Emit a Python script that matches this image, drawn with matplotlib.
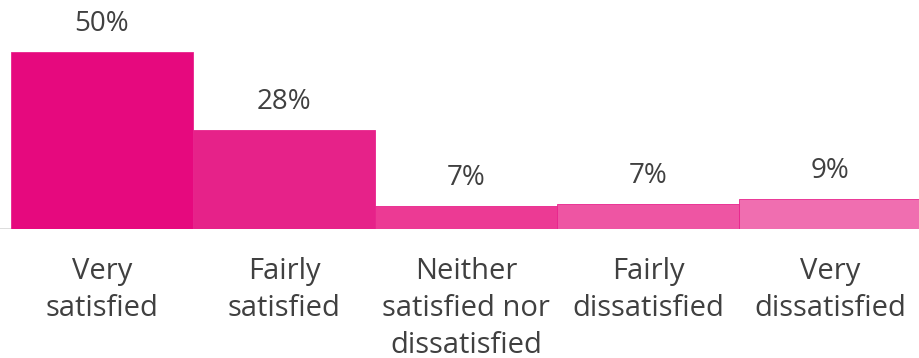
import matplotlib.pyplot as plt

# Satisfaction survey results
categories = ["Very\nsatisfied", "Fairly\nsatisfied", "Neither\nsatisfied nor\ndissatisfied",
              "Fairly\ndissatisfied", "Very\ndissatisfied"]
shares = [50, 28, 6.6, 7.1, 8.6]
bar_colors = ["#E6097E", "#E62289", "#EC3A94", "#EE55A3", "#F06EB0"]

plt.rcParams["font.family"] = ["Open Sans", "DejaVu Sans"]
text_color = "#404040"

fig = plt.figure(figsize=(9.2, 3.58), dpi=100)
ax = fig.add_axes([0, 129 / 358, 1, 229 / 358])

bar_px = 182
ax.set_xlim(-0.5 - 11 / bar_px, -0.5 + (920 - 11) / bar_px)
ax.set_ylim(0, 50 * 229 / 177)

x = range(len(shares))
ax.bar(x, shares, width=1.0, color=bar_colors, edgecolor="#E8238C", linewidth=0.6)

for xi, v in zip(x, shares):
    ax.annotate(f"{v:.0f}%", (xi, v), xytext=(0, 21), textcoords="offset pixels",
                ha="center", va="baseline", fontsize=20, color=text_color)

ax.axhline(0, color="#D9D9D9", linewidth=2, zorder=0)

for xi, lab in zip(x, categories):
    ax.annotate(lab, (xi, 0), xytext=(0, -28), textcoords="offset pixels",
                ha="center", va="top", fontsize=21, color=text_color,
                linespacing=1.36, annotation_clip=False)

ax.axis("off")
fig.savefig("out.png", dpi=100)
